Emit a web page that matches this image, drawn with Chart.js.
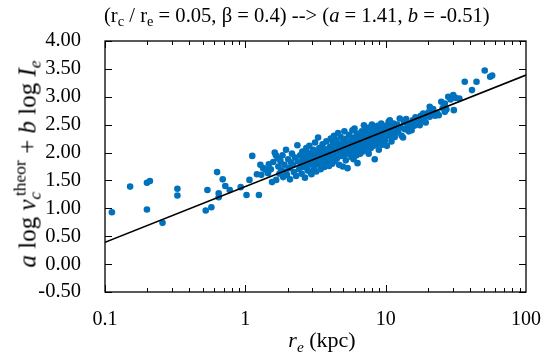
<!DOCTYPE html>
<html><head><meta charset="utf-8">
<script src="https://cdn.jsdelivr.net/npm/chart.js@4/dist/chart.umd.min.js"></script>
<style>
html,body{margin:0;padding:0;background:#fff;}
#wrap{position:relative;width:550px;height:360px;font-family:"Liberation Serif","Times New Roman",serif;color:#000;}
canvas{position:absolute;left:0;top:0;}
.lbl{position:absolute;white-space:nowrap;line-height:1;}
.lbl sub,.lbl sup{font-size:0.7em;line-height:0;}
.lbl sub{vertical-align:-0.3em;}
.lbl sup{vertical-align:0.55em;}
#title{left:104px;top:5px;font-size:20.6px;}
#xtitle{left:322px;top:329px;font-size:22px;transform:translateX(-50%);}
#ytitle{left:27px;top:164px;font-size:25px;transform:translate(-50%,-50%) rotate(-90deg);}
</style>
</head><body>
<div id="wrap">
<canvas id="c" width="550" height="360"></canvas>
<div class="lbl" id="title">(r<sub>c</sub> / r<sub>e</sub> = 0.05, β = 0.4) --&gt; (<i>a</i> = 1.41, <i>b</i> = -0.51)</div>
<div class="lbl" id="xtitle"><i>r<sub>e</sub></i> (kpc)</div>
<div class="lbl" id="ytitle"><i>a</i> log <i>v<sub>c</sub></i><sup style="margin-left:-0.25em">theor</sup> + <i>b</i> log <i>I<sub>e</sub></i></div>
</div>
<script>
// Effective radius (kpc)
const reKpc = [
 0.112,0.151,0.199,0.209,0.199,0.257,0.328,0.328,0.537,0.522,
 0.573,0.629,0.646,0.646,0.690,0.720,0.774,0.927,1.02,1.07,
 1.12,1.21,1.25,1.28,1.30,1.34,1.40,1.45,1.47,
 1.52,1.55,1.58,1.62,1.65,1.66,1.70,1.72,1.75,1.78,
 1.80,1.84,1.86,1.90,1.93,1.95,1.98,2.02,2.05,2.08,
 2.12,2.15,2.19,2.22,2.26,2.30,2.35,2.38,2.42,2.46,
 2.50,2.52,2.55,2.58,2.60,2.63,2.66,2.69,2.72,2.75,
 2.78,2.80,2.83,2.86,2.90,2.93,2.96,2.98,3.02,3.05,
 3.08,3.10,3.14,3.18,3.20,3.24,3.27,3.30,3.33,3.37,
 3.40,3.44,3.48,3.52,3.55,3.58,3.62,3.66,3.70,3.74,
 3.78,3.82,3.86,3.90,3.95,
 4.00,4.03,4.06,4.10,4.13,4.16,4.20,4.24,4.28,4.31,
 4.35,4.39,4.42,4.46,4.50,4.54,4.58,4.62,4.66,4.70,
 4.74,4.78,4.82,4.86,4.90,4.95,4.99,5.03,5.08,5.12,
 5.16,5.20,5.25,5.30,5.35,5.40,5.45,5.50,5.55,5.60,
 5.65,5.70,5.75,5.80,5.85,5.90,5.95,6.00,6.05,6.10,
 6.15,6.20,6.25,6.30,6.35,6.40,6.46,6.52,6.58,6.64,
 6.70,6.76,6.82,6.88,6.94,
 7.00,7.05,7.12,7.18,7.25,7.31,7.38,7.44,7.50,7.57,
 7.63,7.70,7.77,7.84,7.91,7.98,8.05,8.12,8.20,8.27,
 8.36,8.44,8.52,8.60,8.68,8.77,8.85,8.94,9.03,9.12,
 9.21,9.30,9.40,9.50,9.60,9.70,9.80,9.90,10.0,10.1,
 10.2,10.35,10.5,10.6,10.7,10.85,11.0,11.1,11.3,11.4,
 11.6,11.8,11.9,
 12.1,12.3,12.6,12.8,13.0,13.3,13.5,13.7,14.0,14.3,
 14.6,14.9,15.3,15.3,15.6,16.0,16.3,16.6,17.0,17.5,
 17.8,18.2,18.5,18.9,19.3,19.7,
 20.2,20.6,20.6,21.2,21.8,22.5,23.3,23.9,24.9,25.5,
 26.4,26.4,27.1,27.9,29.0,30.3,30.6,31.5,33.5,
 36.6,41.2,44.4,50.8,55.5,57.4
];
// a log v_c^theor + b log I_e
const yVal = [
 0.93,1.39,1.46,1.49,0.98,0.74,1.35,1.23,1.33,0.96,
 1.02,1.65,1.27,1.20,1.52,1.40,1.33,1.38,1.24,1.51,
 1.94,1.61,1.24,1.78,1.60,1.72,1.69,1.63,1.79,
 1.70,1.47,1.83,2.00,1.95,1.51,1.90,1.75,1.62,1.85,
 1.68,1.95,1.56,1.78,1.66,2.05,1.60,1.88,1.72,1.52,
 1.82,1.98,1.78,1.65,1.91,1.58,2.13,1.84,1.70,1.95,
 1.80,1.62,2.02,1.88,1.74,1.96,1.55,1.83,2.08,1.90,
 1.68,1.99,1.78,2.12,1.86,1.64,1.61,1.95,1.82,2.05,
 1.72,1.92,2.18,1.87,1.66,2.00,1.79,2.27,1.94,2.08,
 1.85,1.70,2.02,1.92,2.15,1.80,1.98,1.74,2.06,1.90,
 2.20,1.84,2.00,1.95,1.76,
 2.10,1.88,2.25,1.98,2.05,1.80,2.18,1.93,2.30,2.02,
 1.85,2.12,1.97,2.22,1.90,2.08,2.35,1.99,1.78,2.15,
 2.04,2.28,1.94,2.10,2.00,1.75,2.20,2.06,2.38,1.96,
 2.14,1.86,2.25,2.03,1.72,2.17,2.08,2.32,1.98,2.12,
 2.22,1.92,2.05,2.40,2.15,1.88,2.27,2.43,2.10,2.00,
 2.20,1.95,2.34,1.81,2.12,2.25,2.05,2.30,1.98,2.18,
 2.09,2.38,2.22,2.02,2.28,
 2.49,2.15,2.30,2.05,2.40,2.22,2.12,2.35,2.26,1.98,
 2.45,2.18,2.32,2.08,2.28,2.50,2.20,2.38,2.12,2.30,
 1.88,2.42,2.25,2.34,2.15,2.48,2.28,2.05,2.40,2.32,
 2.20,2.52,2.36,2.14,2.44,2.28,2.38,2.22,2.48,2.32,
 2.12,2.42,2.55,2.30,2.58,2.38,2.20,2.46,2.35,2.52,
 2.28,2.44,2.38,
 2.50,2.36,2.61,2.45,2.30,2.27,2.55,2.42,2.60,2.50,
 2.38,2.46,2.52,2.40,2.58,2.48,2.63,2.61,2.55,2.49,
 2.66,2.58,2.70,2.62,2.54,2.68,
 2.72,2.82,2.64,2.70,2.78,2.66,2.71,2.67,2.91,2.80,
 2.73,2.88,2.77,3.00,2.95,3.03,2.76,2.98,2.97,
 3.27,3.12,3.27,3.47,3.36,3.38
];
// Fitted relation endpoints
const fitX = [0.1, 100];
const fitY = [0.39, 3.39];
// Tick labels
const xTicks = [0.1, 1, 10, 100];
const yTicks = [-0.5, 0, 0.5, 1, 1.5, 2, 2.5, 3, 3.5, 4];

const FONT = {family: '"Liberation Serif","Times New Roman",serif', size: 20};

const framePlugin = {
  id: 'frame',
  afterDatasetsDraw(chart) {
    const {ctx, chartArea: a, scales} = chart;
    ctx.save();
    ctx.strokeStyle = '#000';
    ctx.lineWidth = 1;
    ctx.beginPath();
    for (let d = -1; d < 2; d++) {
      for (let m = 1; m <= 9; m++) {
        const v = m * Math.pow(10, d);
        const px = Math.round(scales.x.getPixelForValue(v)) + 0.5;
        const len = m === 1 ? 7 : 4;
        ctx.moveTo(px, a.bottom); ctx.lineTo(px, a.bottom - len);
        ctx.moveTo(px, a.top); ctx.lineTo(px, a.top + len);
      }
    }
    yTicks.forEach(v => {
      const py = Math.round(scales.y.getPixelForValue(v)) + 0.5;
      ctx.moveTo(a.left, py); ctx.lineTo(a.left + 7, py);
      ctx.moveTo(a.right, py); ctx.lineTo(a.right - 7, py);
    });
    ctx.stroke();
    ctx.lineWidth = 1.3;
    ctx.strokeRect(a.left, a.top, a.right - a.left, a.bottom - a.top);
    ctx.restore();
  }
};

new Chart(document.getElementById('c'), {
  data: {
    datasets: [
      {
        type: 'line',
        data: fitX.map((x, i) => ({x: x, y: fitY[i]})),
        borderColor: '#000',
        borderWidth: 1.6,
        pointRadius: 0,
        fill: false,
        tension: 0
      },
      {
        type: 'scatter',
        data: reKpc.map((x, i) => ({x: x, y: yVal[i]})),
        backgroundColor: '#0072bd',
        borderWidth: 0,
        pointRadius: 3.3
      }
    ]
  },
  options: {
    responsive: false,
    devicePixelRatio: 1,
    animation: false,
    layout: {padding: {top: 41, right: 24, left: 0, bottom: 0}},
    plugins: {legend: {display: false}, tooltip: {enabled: false}},
    scales: {
      x: {
        type: 'logarithmic', min: 0.1, max: 100,
        afterBuildTicks: s => { s.ticks = xTicks.map(v => ({value: v})); },
        afterFit: s => { s.height = 68; },
        ticks: {font: FONT, color: '#000', padding: 8, maxRotation: 0, autoSkip: false,
                callback: v => String(v)},
        grid: {display: false},
        border: {display: false}
      },
      y: {
        type: 'linear', min: -0.5, max: 4,
        afterBuildTicks: s => { s.ticks = yTicks.map(v => ({value: v})); },
        afterFit: s => { s.width = 105; },
        ticks: {font: {family: FONT.family, size: 20.5}, color: '#000', padding: 16, callback: v => Number(v).toFixed(2)},
        grid: {display: false},
        border: {display: false}
      }
    }
  },
  plugins: [framePlugin]
});
</script>
</body></html>
